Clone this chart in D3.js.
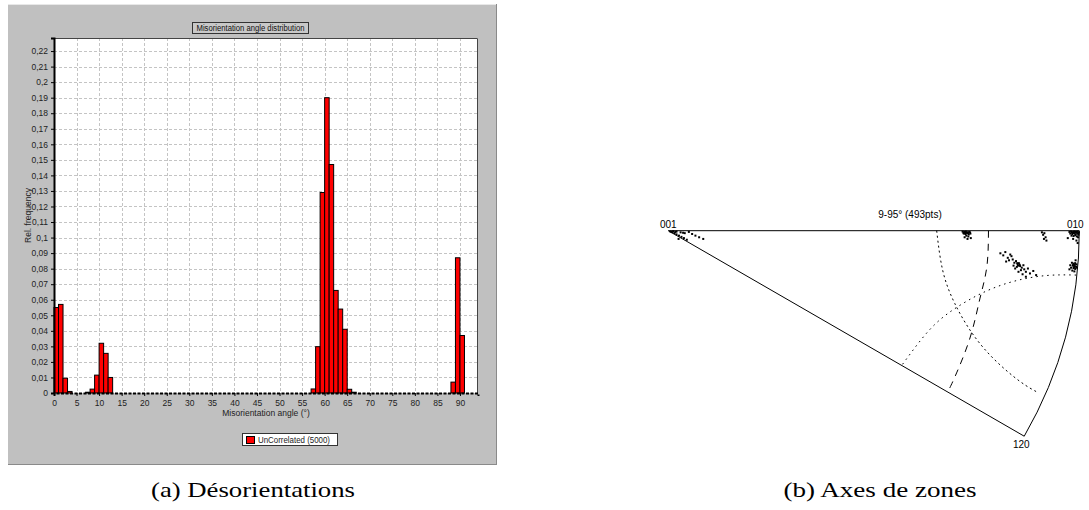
<!DOCTYPE html>
<html><head><meta charset="utf-8">
<script src="https://cdn.jsdelivr.net/npm/d3@7"></script>
<style>body{margin:0;background:#fff}svg{display:block}</style>
</head><body>
<svg id="c" width="1089" height="510"></svg>
<script>
// ---------- Data: panel (a) ----------
const angleBins = d3.range(0, 94); // bin start angles (deg)
const relFrequency = [
  0.055,0.057,0.0095,0.001,0,0,0,0.0005,0.0025,0.0115,
  0.032,0.0255,0.0100,0,0,0,0,0,0,0,
  0,0,0,0,0,0,0,0,0,0,
  0,0,0,0,0,0,0,0,0,0,
  0,0,0,0,0,0,0,0,0,0,
  0,0,0,0,0,0,0,0.0026,0.0298,0.129,
  0.190,0.147,0.066,0.054,0.041,0.0024,0.0005,0,0,0,
  0,0,0,0,0,0,0,0,0,0,
  0,0,0,0,0,0,0,0,0.007,0.087,
  0.037,0,0,0
];
const yTicks = [0,0.01,0.02,0.03,0.04,0.05,0.06,0.07,0.08,0.09,0.1,0.11,0.12,0.13,0.14,0.15,0.16,0.17,0.18,0.19,0.2,0.21,0.22];
const xTicks = [0,5,10,15,20,25,30,35,40,45,50,55,60,65,70,75,80,85,90];
const chartTitle = "Misorientation angle distribution";
const xLabel = "Misorientation angle (°)";
const yLabel = "Rel. frequency";
const legendLabel = "UnCorrelated (5000)";

// ---------- Data: panel (b) (projection units, radius = 1) ----------
const poles = [
  {name:"001", x:0, y:0},
  {name:"010", x:1, y:0},
  {name:"120", x:0.866, y:0.5}
];
const curveA = [[0.653,0.000],[0.668,0.098],[0.697,0.177],[0.739,0.249],[0.793,0.313],[0.856,0.367],[0.900,0.394]];
const curveB = [[0.570,0.325],[0.634,0.243],[0.695,0.191],[0.765,0.151],[0.841,0.123],[0.921,0.109],[0.994,0.108]];
const curveC = [[0.779,0.000],[0.775,0.088],[0.758,0.166],[0.734,0.261],[0.698,0.354],[0.680,0.392]];
const zonePoints = [
  // near 001
  [0.005,0.002],[0.010,0.004],[0.015,0.006],[0.020,0.009],[0.026,0.012],[0.032,0.015],[0.038,0.018],[0.045,0.022],
  [0.012,0.001],[0.020,0.002],[0.030,0.004],[0.040,0.006],[0.050,0.003],[0.058,0.008],[0.066,0.012],[0.075,0.016],
  [0.085,0.020],[0.025,0.020],[0.036,0.005],[0.008,0.003],[0.017,0.003],
  // cluster on top edge
  [0.716,0.002],[0.720,0.003],[0.724,0.002],[0.728,0.004],[0.732,0.003],[0.719,0.007],[0.723,0.008],[0.727,0.006],
  [0.731,0.009],[0.735,0.007],[0.725,0.012],[0.730,0.014],[0.721,0.016],[0.736,0.018],[0.728,0.020],[0.718,0.005],
  [0.722,0.005],[0.726,0.004],[0.730,0.006],[0.734,0.004],
  // sparse near top edge
  [0.909,0.004],[0.912,0.010],[0.915,0.006],[0.918,0.016],[0.920,0.024],[0.914,0.020],
  // 010 corner
  [0.976,0.003],[0.980,0.002],[0.984,0.004],[0.988,0.002],[0.992,0.003],[0.996,0.002],[0.999,0.004],[0.978,0.007],
  [0.983,0.008],[0.987,0.006],[0.991,0.009],[0.995,0.007],[0.998,0.010],[0.981,0.012],[0.986,0.013],[0.990,0.011],
  [0.994,0.014],[0.997,0.016],[0.985,0.020],[0.993,0.024],[0.972,0.018],[0.996,0.030],[0.982,0.004],[0.986,0.003],
  [0.990,0.005],[0.994,0.004],[0.998,0.006],
  // right edge cluster
  [0.982,0.078],[0.986,0.080],[0.990,0.079],[0.993,0.082],[0.978,0.084],[0.984,0.085],[0.988,0.086],[0.992,0.088],
  [0.980,0.090],[0.986,0.091],[0.990,0.093],[0.983,0.097],[0.988,0.099],[0.976,0.094],[0.991,0.072],[0.994,0.090],
  [0.985,0.083],[0.989,0.083],[0.987,0.089],
  // spread cluster
  [0.808,0.055],[0.815,0.060],[0.820,0.052],[0.826,0.066],[0.832,0.058],[0.829,0.072],[0.838,0.070],[0.842,0.078],
  [0.846,0.074],[0.850,0.082],[0.853,0.079],[0.848,0.088],[0.856,0.086],[0.860,0.090],[0.864,0.084],[0.844,0.092],
  [0.858,0.096],[0.866,0.094],[0.870,0.100],[0.875,0.092],[0.880,0.104],[0.862,0.106],[0.852,0.100],[0.840,0.085],
  [0.835,0.062],[0.822,0.075],[0.888,0.098],[0.895,0.108],[0.870,0.112],[0.851,0.085],[0.855,0.083],[0.849,0.079]
];
const panelBTitle = "9-95° (493pts)";
const captions = ["(a) Désorientations", "(b) Axes de zones"];

// ---------- Drawing ----------
const svg = d3.select("#c");
const sans = "'Liberation Sans', Arial, sans-serif";

// Panel (a) background
const A = svg.append("g");
A.append("rect").attr("x",8).attr("y",4).attr("width",489).attr("height",461).attr("fill","#c0c0c0");
A.append("line").attr("x1",8).attr("x2",497).attr("y1",4.5).attr("y2",4.5).attr("stroke","#e8e8e8");
A.append("line").attr("x1",8).attr("x2",497).attr("y1",464.5).attr("y2",464.5).attr("stroke","#8a8a8a");
A.append("line").attr("x1",496.5).attr("x2",496.5).attr("y1",4).attr("y2",465).attr("stroke","#8a8a8a");

const m = {l:54, r:478, t:38, b:393};
const x = d3.scaleLinear().domain([0,94]).range([m.l, m.r]);
const y = d3.scaleLinear().domain([0,0.2284]).range([m.b, m.t]);

A.append("rect").attr("x",m.l).attr("y",m.t).attr("width",m.r-m.l).attr("height",m.b-m.t).attr("fill","#fff");

// grid
A.append("g").selectAll("line").data(yTicks.filter(d=>d>0)).join("line")
  .attr("x1",m.l).attr("x2",m.r).attr("y1",d=>Math.round(y(d))+0.5).attr("y2",d=>Math.round(y(d))+0.5)
  .attr("stroke","#c4c4c4").attr("stroke-dasharray","3,2");
A.append("g").selectAll("line").data(xTicks.filter(d=>d>0)).join("line")
  .attr("x1",d=>Math.round(x(d))+0.5).attr("x2",d=>Math.round(x(d))+0.5).attr("y1",m.t).attr("y2",m.b)
  .attr("stroke","#c4c4c4").attr("stroke-dasharray","3,2");

// frame top/right
A.append("path").attr("d",`M${m.l},${m.t+0.5}H${m.r-0.5}V${m.b}`).attr("fill","none").attr("stroke","#444");

// bars
A.append("g").selectAll("rect").data(angleBins).join("rect")
  .attr("x",d=>x(d)).attr("width",d=>x(d+1)-x(d))
  .attr("y",(d,i)=>y(relFrequency[i])).attr("height",(d,i)=>y(0)-y(relFrequency[i]))
  .attr("fill","#ff0000").attr("stroke","#000").attr("stroke-width",1);

// axes
const fmt = d=> String(d).replace(".",",");
const yAxis = A.append("g").attr("transform",`translate(${m.l},0)`)
  .call(d3.axisLeft(y).tickValues(yTicks).tickFormat(fmt).tickSize(3).tickPadding(3));
yAxis.select(".domain").attr("stroke","#000").attr("stroke-width",2);
yAxis.selectAll("text").attr("font-family",sans).attr("font-size",8.5).attr("fill","#222");

const xAxis = A.append("g").attr("transform",`translate(0,${m.b})`)
  .call(d3.axisBottom(x).tickValues(xTicks).tickFormat(d=>d).tickSize(3).tickPadding(4));
xAxis.select(".domain").attr("stroke","#000").attr("stroke-width",2).attr("stroke-dasharray","3,1.5");
xAxis.selectAll("text").attr("font-family",sans).attr("font-size",8.5).attr("fill","#222");

A.append("text").attr("x",(m.l+m.r)/2).attr("y",416).attr("text-anchor","middle")
  .attr("font-family",sans).attr("font-size",8.5).attr("fill","#222").text(xLabel);
A.append("text").attr("transform",`translate(31,${(m.t+m.b)/2}) rotate(-90)`).attr("text-anchor","middle")
  .attr("font-family",sans).attr("font-size",8.5).attr("fill","#222").text(yLabel);

// title box
A.append("rect").attr("x",192.5).attr("y",22.5).attr("width",116).attr("height",11).attr("fill","#c8c8c8").attr("stroke","#333");
A.append("text").attr("x",250.5).attr("y",31).attr("text-anchor","middle").attr("font-family",sans)
  .attr("font-size",8.5).attr("textLength",108).attr("lengthAdjust","spacingAndGlyphs").attr("fill","#111").text(chartTitle);

// legend
A.append("rect").attr("x",242.5).attr("y",433.5).attr("width",95).attr("height",12).attr("fill","#fff").attr("stroke","#333");
A.append("rect").attr("x",246.5).attr("y",436.5).attr("width",8).attr("height",7).attr("fill","#ff0000").attr("stroke","#000");
A.append("text").attr("x",258).attr("y",442.5).attr("font-family",sans).attr("font-size",8.5)
  .attr("textLength",72).attr("lengthAdjust","spacingAndGlyphs").attr("fill","#222").text(legendLabel);

// ---------- Panel (b) ----------
const B = svg.append("g");
const R = 411, ox = 668.3, oy = 230.7;
const px = d3.scaleLinear().domain([0,1]).range([ox, ox+R]);
const py = d3.scaleLinear().domain([0,1]).range([oy, oy+R]);
const P = Object.fromEntries(poles.map(p=>[p.name,p]));
const arc = d3.path();
arc.moveTo(px(P["001"].x), py(P["001"].y));
arc.lineTo(px(P["010"].x), py(P["010"].y));
arc.arc(px(0), py(0), px(1)-px(0), 0, Math.atan2(P["120"].y, P["120"].x), false);
arc.closePath();
B.append("path").attr("d",arc.toString()).attr("fill","none").attr("stroke","#000").attr("stroke-width",1);

const ln = d3.line().x(d=>px(d[0])).y(d=>py(d[1])).curve(d3.curveNatural);
B.append("path").attr("d",ln(curveA)).attr("fill","none").attr("stroke","#000").attr("stroke-width",1).attr("stroke-dasharray","2,3");
B.append("path").attr("d",ln(curveB)).attr("fill","none").attr("stroke","#000").attr("stroke-width",1).attr("stroke-dasharray","1.5,4");
B.append("path").attr("d",ln(curveC)).attr("fill","none").attr("stroke","#000").attr("stroke-width",1).attr("stroke-dasharray","7,6");

B.append("g").selectAll("rect").data(zonePoints).join("rect")
  .attr("x",d=>px(d[0])-1).attr("y",d=>py(d[1])-1).attr("width",2).attr("height",2).attr("fill","#000");

B.append("text").attr("x",px(P["001"].x)).attr("y",oy-3).attr("text-anchor","middle").attr("font-family",sans).attr("font-size",10).text("001");
B.append("text").attr("x",px(P["010"].x)-4).attr("y",oy-3).attr("text-anchor","middle").attr("font-family",sans).attr("font-size",10).text("010");
B.append("text").attr("x",px(P["120"].x)-3).attr("y",py(P["120"].y)+12).attr("text-anchor","middle").attr("font-family",sans).attr("font-size",10).text("120");
B.append("text").attr("x",910).attr("y",218).attr("text-anchor","middle").attr("font-family",sans).attr("font-size",10).text(panelBTitle);

// captions
const serif = "'Liberation Serif', 'DejaVu Serif', serif";
svg.append("text").attr("x",253).attr("y",497).attr("text-anchor","middle").attr("font-family",serif)
  .attr("font-size",21).attr("textLength",204).attr("lengthAdjust","spacingAndGlyphs").text(captions[0]);
svg.append("text").attr("x",880).attr("y",497).attr("text-anchor","middle").attr("font-family",serif)
  .attr("font-size",21).attr("textLength",193).attr("lengthAdjust","spacingAndGlyphs").text(captions[1]);
</script>
</body></html>
